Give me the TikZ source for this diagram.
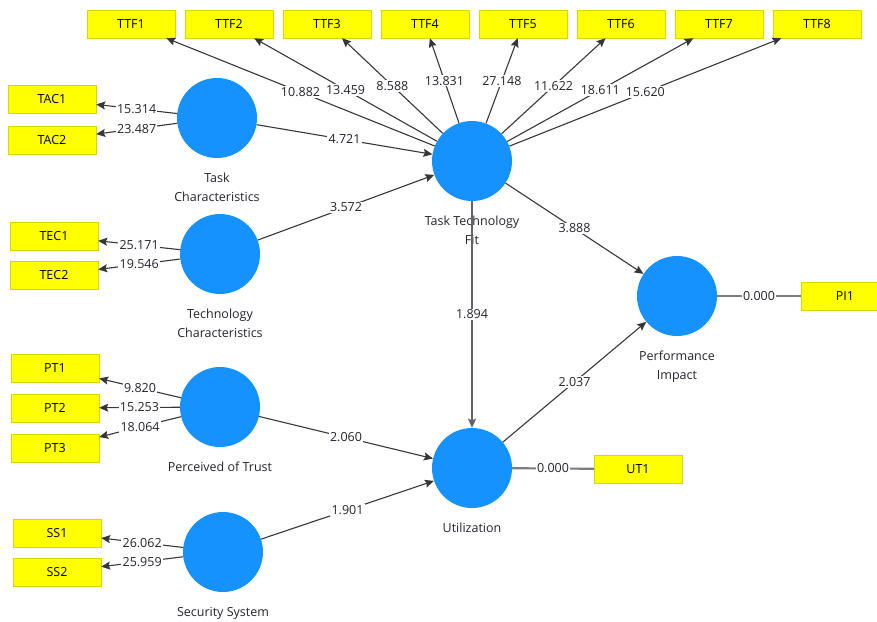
\documentclass[tikz,border=0pt]{standalone}
\usepackage{fontspec}
\setmainfont{Open Sans}
\usepackage{tikz}
\usetikzlibrary{arrows.meta,positioning}
\definecolor{plsblue}{RGB}{22,146,255}
\definecolor{plsyellow}{RGB}{255,255,0}
\definecolor{plsedge}{RGB}{214,214,0}
\definecolor{linedark}{RGB}{55,55,55}
\definecolor{linegray}{RGB}{125,125,125}
\definecolor{labtext}{RGB}{35,35,45}

\begin{document}
\begin{tikzpicture}[x=1pt,y=-1pt,>={Stealth[length=9pt,width=8pt,inset=1.5pt]},
  font=\fontsize{12.5}{18.5}\selectfont,
  lv/.style={circle,fill=plsblue,minimum size=80pt,inner sep=0pt},
  mv/.style={draw=plsedge,fill=plsyellow,minimum width=88pt,minimum height=28pt,inner sep=0pt},
  lvname/.style={align=center,text=labtext,inner sep=0pt,below=15pt of #1},
  val/.style={fill=white,inner sep=1.2pt,text=labtext},
  arr/.style={->,draw=linedark,line width=1.1pt},
  single/.style={draw=linegray,line width=2.2pt}]
\useasboundingbox (0,0) rectangle (877,621);
\clip (0,0) rectangle (877,621);

% latent variables
\node[lv] (tc) at (217,118) {};
\node[lv] (tech) at (220,254) {};
\node[lv] (trust) at (220,407) {};
\node[lv] (ss) at (223,552) {};
\node[lv] (ttfit) at (472,161) {};
\node[lv] (util) at (472,468) {};
\node[lv] (pi) at (677,296) {};

\node[lvname=tc] {Task\\Characteristics};
\node[lvname=tech] {Technology\\Characteristics};
\node[lvname=trust] {Perceived of Trust};
\node[lvname=ss] {Security System};
\node[lvname=ttfit] {Task Technology\\Fit};
\node[lvname=util] {Utilization};
\node[lvname=pi] {Performance\\Impact};

% indicators
\foreach \i in {1,...,8}
  \node[mv] (ttf\i) at ({131+98*(\i-1)},24) {TTF\i};
\node[mv] (tac1) at (52,99.5) {TAC1};
\node[mv] (tac2) at (52,140) {TAC2};
\node[mv] (tec1) at (54,236) {TEC1};
\node[mv] (tec2) at (54,275) {TEC2};
\node[mv] (pt1) at (55,368) {PT1};
\node[mv] (pt2) at (55,408) {PT2};
\node[mv] (pt3) at (55,448) {PT3};
\node[mv] (ss1) at (57,533) {SS1};
\node[mv] (ss2) at (57,572) {SS2};
\node[mv] (ut1) at (638,469) {UT1};
\node[mv] (pi1) at (845,296) {PI1};

% outer loadings
\foreach \i/\v in {1/10.882,2/13.459,3/8.588,4/13.831,5/27.148,6/11.622,7/18.611,8/15.620}
  \draw[arr] (ttfit) -- node[val] {\v} (ttf\i);
\draw[arr] (tc) -- node[val] {15.314} (tac1);
\draw[arr] (tc) -- node[val] {23.487} (tac2);
\draw[arr] (tech) -- node[val] {25.171} (tec1);
\draw[arr] (tech) -- node[val] {19.546} (tec2);
\draw[arr] (trust) -- node[val] {9.820} (pt1);
\draw[arr] (trust) -- node[val] {15.253} (pt2);
\draw[arr] (trust) -- node[val] {18.064} (pt3);
\draw[arr] (ss) -- node[val] {26.062} (ss1);
\draw[arr] (ss) -- node[val] {25.959} (ss2);
\draw[single] (util) -- node[val] {0.000} (ut1);
\draw[single] (pi) -- node[val] {0.000} (pi1);

% inner model
\draw[arr] (tc) -- node[val] {4.721} (ttfit);
\draw[arr] (tech) -- node[val] {3.572} (ttfit);
\draw[arr] (ttfit) -- node[val] {3.888} (pi);
\draw[arr,draw=linegray!80!black,line width=2pt] (ttfit) -- node[val] {1.894} (util);
\draw[arr] (util) -- node[val] {2.037} (pi);
\draw[arr] (trust) -- node[val] {2.060} (util);
\draw[arr] (ss) -- node[val] {1.901} (util);
\end{tikzpicture}
\end{document}
